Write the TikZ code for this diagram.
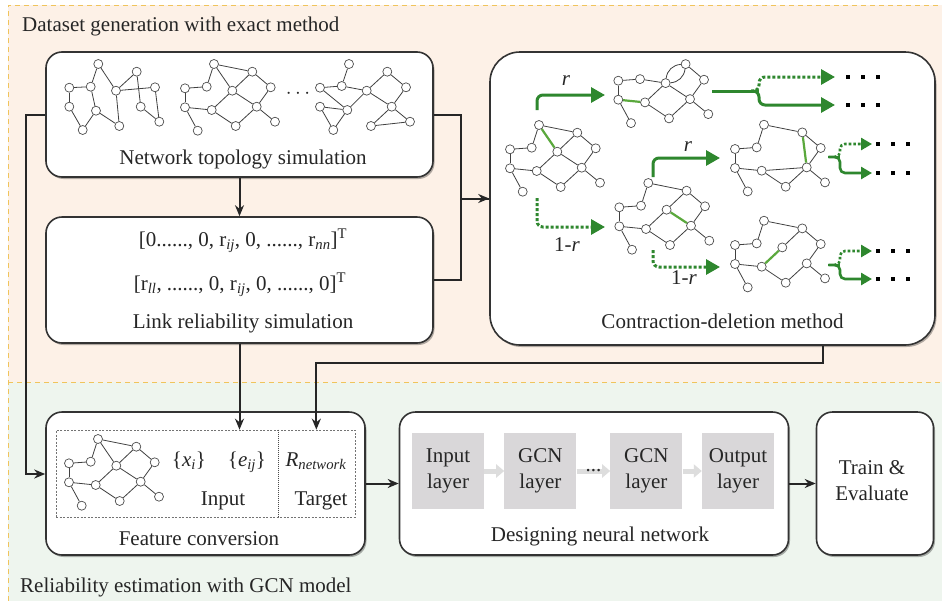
\documentclass[tikz,border=0pt]{standalone}
\usepackage{fontspec}
\setmainfont{Liberation Serif}
\usetikzlibrary{arrows.meta,shadows,calc}
\definecolor{peach}{HTML}{FDF1E7}
\definecolor{mint}{HTML}{EEF5EE}
\definecolor{gold}{HTML}{F0C45C}
\definecolor{boxline}{HTML}{333333}
\definecolor{dkgreen}{HTML}{2E872E}
\definecolor{ltgreen}{HTML}{5AA83C}
\definecolor{layergray}{HTML}{D9D7D9}
\definecolor{arrowgray}{HTML}{DDDDDD}
\tikzset{
 gn/.style={circle,draw=black!70,fill=white,line width=0.7pt,inner sep=0pt,minimum size=9pt},
 ge/.style={draw=black!75,line width=0.8pt},
 gg/.style={draw=ltgreen,line width=2.2pt},
 box/.style={draw=boxline,line width=1.6pt,fill=white,rounded corners=16pt,
   drop shadow={shadow xshift=1.5pt,shadow yshift=-2pt,opacity=.3,fill=black}},
 lbl/.style={inner sep=0pt,font=\fontsize{21}{26}\selectfont,text=black!85},
 conn/.style={draw=black!85,line width=2pt,-{Stealth[length=11pt,width=9pt]}},
 plainline/.style={draw=black!85,line width=2pt},
 garr/.style={draw=dkgreen,line width=3pt,rounded corners=6pt,-{Triangle[length=14pt,width=15pt]}},
 gdot/.style={garr,dash pattern=on 3pt off 2pt},
 garrs/.style={draw=dkgreen,line width=2.6pt,rounded corners=5pt,-{Triangle[length=11pt,width=12pt]}},
 gdots/.style={garrs,dash pattern=on 2.6pt off 2pt},
 gstem/.style={draw=dkgreen,line width=3pt},
 layer/.style={fill=layergray,minimum width=72pt,minimum height=76pt,inner sep=0pt,align=center,
   font=\fontsize{21}{26}\selectfont,text=black!85},
 larr/.style={draw=arrowgray,line width=5pt,-{Triangle[length=8pt,width=13pt]}},
}
% place the 12 nodes of the standard graph; #4 = omitted node (0 = none)
\newcommand\gplace[4]{%
 \foreach \n/\dx/\dy in {1/29/0,2/67.3/7.7,3/0/24.3,4/21.7/22.7,5/47.3/26.7,6/85.7/23.3,
   7/0/43.3,8/26.7/46,9/71.7/42.7,10/12.7/66.7,11/50.7/62,12/90/57.7}{%
   \ifnum\n=#4\relax\else\node[gn] (#1\n) at (#2+\dx,#3+\dy) {};\fi}}
\newcommand\gedges[2]{\foreach \a/\b in {#2}{\draw[ge] (#1\a) -- (#1\b);}}
\newcommand\sqdots[2]{\foreach \k in {0,1,2}{\fill[black] (#1+\k*15-2,#2-2) rectangle ++(4,4);}}
\begin{document}
\begin{tikzpicture}[x=1pt,y=-1pt]
\useasboundingbox (0,0) rectangle (942,600);
% regions
\fill[white] (0,0) rectangle (942,600);
\fill[peach] (8,5) rectangle (960,382);
\fill[mint] (8,382) rectangle (960,610);
\draw[gold,line width=1pt,dash pattern=on 5pt off 4pt] (8,610) -- (8,5) -- (960,5);
\draw[gold,line width=1pt,dash pattern=on 5pt off 4pt] (8,382) -- (960,382);
\node[lbl,anchor=base west] (title1) at (22,31.5) {Dataset generation with exact method};
\node[lbl,anchor=base west] (title2) at (20,592) {Reliability estimation with GCN model};

% boxes
\node[box,minimum width=387pt,minimum height=125pt] (net) at (239.5,114.5) {};
\node[box,minimum width=387pt,minimum height=126pt] (link) at (239.5,280) {};
\node[box,rounded corners=30pt,minimum width=445pt,minimum height=293pt] (cd) at (712.5,198.5) {};
\node[box,minimum width=319pt,minimum height=143pt] (feat) at (205.5,483.5) {};
\node[box,minimum width=389pt,minimum height=143pt] (dnn) at (594,483.5) {};
\node[box,minimum width=117pt,minimum height=143pt] (train) at (875,483.5) {};

% network topology box
\node[lbl,anchor=base] (netlbl) at (243,164) {Network topology simulation};
\foreach \n/\x/\y in {1/98.3/64,2/69.3/87.7,3/90.7/86.7,4/116/90.7,5/136.7/71.7,6/155/87.3,
  7/69.3/106.7,8/96/110.7,9/140.7/106.7,10/82.7/130,11/119.3/126,12/159.3/121.7}
  {\node[gn] (A\n) at (\x,\y) {};}
\gedges{A}{1/3,1/4,2/3,2/7,3/8,7/10,10/8,8/11,4/11,4/5,4/6,5/9,6/12,9/12}
\gplace{B}{185}{64}{0}
\gedges{B}{1/2,1/4,1/5,3/4,3/7,7/8,7/10,8/5,8/11,5/2,5/9,2/6,6/9,9/11,9/12}
\node[lbl,anchor=base] (ell) at (298,98) {$\cdots$};
\foreach \n/\x/\y in {1/349/64,2/387.3/71.7,3/320/87.7,4/341.7/86,5/366.7/90.7,6/406/87.3,
  7/320/106.7,8/347.3/110,9/391.7/106.7,10/333.3/130,11/371/126,12/410/121.7}
  {\node[gn] (P\n) at (\x,\y) {};}
\gedges{P}{1/4,3/4,4/5,3/8,7/8,7/10,10/8,8/5,5/2,5/9,2/6,6/9,9/12,9/11,11/12}

% link box
\node[lbl,anchor=base] (v1) at (243,246) {[0......, 0, r\textsubscript{\itshape ij}, 0, ......, r\textsubscript{\itshape nn}]\textsuperscript{T}};
\node[lbl,anchor=base] (v2) at (240,290) {[r\textsubscript{\itshape ll}, ......, 0, r\textsubscript{\itshape ij}, 0, ......, 0]\textsuperscript{T}};
\node[lbl,anchor=base] (linklbl) at (243,328) {Link reliability simulation};

% contraction-deletion box
\node[lbl,anchor=base] (cdlbl) at (722.5,328) {Contraction-deletion method};
% G0
\gplace{G}{510}{125}{0}
\gedges{G}{1/2,1/4,3/4,3/7,7/8,7/10,8/5,8/11,5/2,5/9,2/6,6/9,9/11,9/12}
\draw[gg] (G1) -- (G5);
% C1
\gplace{C}{618.3}{56.4}{1}
\gedges{C}{3/4,4/5,2/6,6/9,5/9,5/8,3/7,7/10,8/11,11/9,9/12}
\draw[ge] (C5) to[bend left=40] (C2);
\draw[ge] (C5) to[bend right=40] (C2);
\draw[gg] (C7) -- (C8);
% D1
\gplace{D}{619.3}{183}{0}
\gedges{D}{1/2,1/4,3/4,3/7,7/8,7/10,8/5,8/11,5/2,2/6,6/9,9/11,9/12}
\draw[gg] (D5) -- (D9);
% C2
\gplace{E}{735}{124.7}{5}
\gedges{E}{1/2,1/4,3/4,3/7,7/8,7/10,8/9,8/11,2/6,6/9,9/11,9/12}
\draw[gg] (E2) -- (E9);
% D2
\gplace{F}{735}{220.7}{0}
\gedges{F}{1/2,1/4,3/4,3/7,7/8,7/10,8/11,5/2,2/6,6/9,9/11,9/12}
\draw[gg] (F8) -- (F5);

% green arrows
\coordinate (a1s) at (537,110); \coordinate (a1e) at (605,95);
\coordinate (a2s) at (537,198); \coordinate (a2e) at (605,227);
\coordinate (a3s) at (653,177); \coordinate (a3e) at (720,158);
\coordinate (a4s) at (653,250); \coordinate (a4e) at (720,267);
\draw[garr] (a1s) |- (a1e);
\draw[gdot] (a2s) |- (a2e);
\draw[garr] (a3s) |- (a3e);
\draw[gdot] (a4s) |- (a4e);
\node[lbl,anchor=base] (r1) at (566,85) {\itshape r};
\node[lbl,anchor=base] (q1) at (567,251) {1-\textit{r}};
\node[lbl,anchor=base] (r2) at (688,151) {\itshape r};
\node[lbl,anchor=base] (q2) at (684,284) {1-\textit{r}};
% outputs of C1
\coordinate (o1s) at (712,91); \coordinate (o1j) at (759,91);
\coordinate (o1u) at (835,77); \coordinate (o1d) at (835,105);
\draw[gstem] (o1s) -- (o1j);
\draw[gdot] ([xshift=-8pt]o1j) -- (o1j) |- (o1u);
\draw[garr] ([xshift=-8pt]o1j) -- (o1j) |- (o1d);
\sqdots{848}{77}\sqdots{848}{105}
% outputs of C2
\coordinate (o2s) at (828,157); \coordinate (o2j) at (840,157);
\coordinate (o2u) at (872,144); \coordinate (o2d) at (872,173);
\draw[draw=dkgreen,line width=2.6pt] (o2s) -- (o2j);
\draw[gdots] ([xshift=-4pt]o2j) -- (o2j) |- (o2u);
\draw[garrs] ([xshift=-4pt]o2j) -- (o2j) |- (o2d);
\sqdots{878}{144}\sqdots{878}{173}
% outputs of D2
\coordinate (o3s) at (828,265); \coordinate (o3j) at (840,265);
\coordinate (o3u) at (872,251); \coordinate (o3d) at (872,279);
\draw[draw=dkgreen,line width=2.6pt] (o3s) -- (o3j);
\draw[gdots] ([xshift=-4pt]o3j) -- (o3j) |- (o3u);
\draw[garrs] ([xshift=-4pt]o3j) -- (o3j) |- (o3d);
\sqdots{878}{251}\sqdots{878}{279}

% feature conversion box
\node[draw=black!55,line width=0.7pt,dash pattern=on 2pt off 1.5pt,minimum width=299pt,minimum height=87pt,inner sep=0pt] (featin) at (205.5,473.5) {};
\draw[black!70,line width=0.7pt,dash pattern=on 1pt off 1pt] (featin.north -| 278,0) -- (featin.south -| 278,0);
\gplace{H}{69}{439}{0}
\gedges{H}{1/2,1/4,1/5,3/4,3/7,7/8,7/10,8/5,8/11,5/2,5/9,2/6,6/9,9/11,9/12}
\node[lbl,anchor=base] (xi) at (189,466) {\{\textit{x}\textsubscript{\itshape i}\}};
\node[lbl,anchor=base] (eij) at (247,466) {\{\textit{e}\textsubscript{\itshape ij}\}};
\node[lbl,anchor=base] (rn) at (316,466) {\textit{R}\textsubscript{\itshape network}};
\node[lbl,anchor=base] (inp) at (223,505) {Input};
\node[lbl,anchor=base] (tgt) at (321,505) {Target};
\node[lbl,anchor=base] (featlbl) at (199,545) {Feature conversion};

% designing neural network box
\node[layer] (L1) at (448,471) {Input\\layer};
\node[layer] (L2) at (540.4,471) {GCN\\layer};
\node[layer] (L3) at (646.4,471) {GCN\\layer};
\node[layer] (L4) at (738,471) {Output\\layer};
\draw[larr] (L1) -- (L2);
\draw[larr] (L2) -- (L3);
\draw[larr] (L3) -- (L4);
\node[lbl,anchor=base] (ldots) at (593.5,471) {...};
\node[lbl,anchor=base] (dnnlbl) at (600,541.5) {Designing neural network};
\node[lbl,align=center] (trainlbl) at (872,481) {Train \&\\Evaluate};

% black connectors
\draw[conn] (net.south) -- (link.north);
\draw[conn] (net.east) -- ++(27,0) |- (cd.west);
\draw[plainline] (link.east) -- ++(27,0) |- (cd.west);
\draw[conn] (net.west) -- ++(-19,0) |- ([yshift=9.5pt]feat.west);
\draw[conn] (link.south) -- (link.south |- featin.north);
\draw[conn] ([xshift=110pt]cd.south) -- ++(0,17) -| ([xshift=-39pt]featin.north east);
\draw[conn] (feat.east) -- (dnn.west);
\draw[conn] (dnn.east) -- (train.west);
\end{tikzpicture}
\end{document}
